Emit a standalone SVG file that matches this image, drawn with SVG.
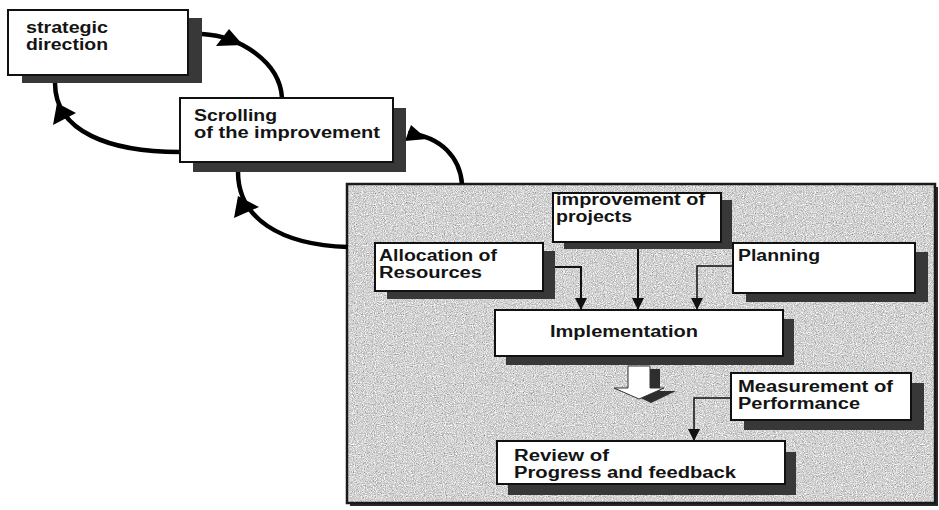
<svg xmlns="http://www.w3.org/2000/svg" width="939" height="510" viewBox="0 0 939 510">
  <defs>
    <style>
      .shadow { fill: #383838; }
      .box { fill: #ffffff; stroke: #111111; stroke-width: 2; }
      .lbl { font-family: "Liberation Sans", Arial, sans-serif; font-weight: bold; font-size: 16px; fill: #141414; }
      .loop { fill: none; stroke: #000000; stroke-width: 4.5; }
      .head { fill: #000000; }
      .link { fill: none; stroke: #111111; stroke-width: 2; }
      .thin { stroke-width: 1.5; }
    </style>
    <filter id="grain" x="0" y="0" width="100%" height="100%" color-interpolation-filters="sRGB">
      <feTurbulence type="fractalNoise" baseFrequency="0.9" numOctaves="2" seed="7"/>
      <feColorMatrix type="matrix" values="0.38 0.38 0.38 0 0.25  0.38 0.38 0.38 0 0.25  0.38 0.38 0.38 0 0.25  0 0 0 0 1"/>
    </filter>
    <marker id="tip" viewBox="0 0 12 12" refX="12" refY="6" markerWidth="12" markerHeight="12" markerUnits="userSpaceOnUse" orient="auto">
      <path d="M0,0 L12,6 L0,12 Z" fill="#111111"/>
    </marker>
  </defs>

  <!-- speckled panel holding the improvement cycle -->
  <g id="panel">
    <rect x="350" y="187" width="588" height="319" fill="#2a2a2a"/>
    <rect x="347" y="184" width="588" height="319" filter="url(#grain)"/>
    <rect x="347" y="184" width="588" height="319" fill="none" stroke="#1a1a1a" stroke-width="2.5"/>
  </g>

  <!-- feedback loops and internal links -->
  <g id="connectors">
    <!-- scrolling -> strategic direction (right side) -->
    <path class="loop" d="M202,34 C240,36 280,62 282,98"/>
    <polygon class="head" points="216,46 229,29 243,45"/>
    <!-- scrolling -> strategic direction (left side) -->
    <path class="loop" d="M180,152 C110,152 55,132 55,83"/>
    <polygon class="head" points="53,125 57,103 76,113"/>
    <!-- panel -> scrolling (left side) -->
    <path class="loop" d="M348,247 C280,245 238,218 238,172"/>
    <polygon class="head" points="234,218 238,196 259,207"/>
    <!-- panel -> scrolling (right side) -->
    <path class="loop" d="M462,184 C460,158 442,137 408,133"/>
    <polygon class="head" points="405,141 411,125 427,139"/>

    <!-- inputs into Implementation -->
    <path class="link" d="M543,267 H581 V310" marker-end="url(#tip)"/>
    <path class="link" d="M638,242 V310" marker-end="url(#tip)"/>
    <path class="link thin" d="M733,266 H697 V310" marker-end="url(#tip)"/>
    <!-- measurement feeding the review -->
    <path class="link thin" d="M731,398 H694 V441" marker-end="url(#tip)"/>

    <!-- hollow block arrow under Implementation -->
    <polygon fill="#2e2e2e" points="638,369 660,369 660,391 676,391 651,403 626,391 638,391"/>
    <polygon fill="#ffffff" stroke="#333333" stroke-width="1" points="628,366 650,366 650,388 664,388 639,399 614,388 628,388"/>
  </g>

  <g id="strategic-direction">
    <rect class="shadow" x="22" y="18" width="180" height="65"/>
    <rect class="box" x="8" y="10" width="180" height="65"/>
    <text class="lbl" x="26" y="33" textLength="82" lengthAdjust="spacingAndGlyphs">strategic</text>
    <text class="lbl" x="26" y="50" textLength="82" lengthAdjust="spacingAndGlyphs">direction</text>
  </g>

  <g id="scrolling">
    <rect class="shadow" x="193" y="108" width="213" height="64"/>
    <rect class="box" x="180" y="98" width="213" height="64"/>
    <text class="lbl" x="194" y="121" textLength="83" lengthAdjust="spacingAndGlyphs">Scrolling</text>
    <text class="lbl" x="194" y="138" textLength="186" lengthAdjust="spacingAndGlyphs">of the improvement</text>
  </g>

  <g id="improvement-projects">
    <rect class="shadow" x="564" y="200" width="168" height="49"/>
    <rect class="box" x="553" y="193" width="168" height="49"/>
    <text class="lbl" x="556" y="205" textLength="149" lengthAdjust="spacingAndGlyphs">improvement of</text>
    <text class="lbl" x="556" y="222" textLength="76" lengthAdjust="spacingAndGlyphs">projects</text>
  </g>

  <g id="allocation">
    <rect class="shadow" x="387" y="251" width="168" height="48"/>
    <rect class="box" x="375" y="243" width="168" height="48"/>
    <text class="lbl" x="379" y="261" textLength="118" lengthAdjust="spacingAndGlyphs">Allocation of</text>
    <text class="lbl" x="379" y="278" textLength="103" lengthAdjust="spacingAndGlyphs">Resources</text>
  </g>

  <g id="planning">
    <rect class="shadow" x="746" y="252" width="182" height="50"/>
    <rect class="box" x="733" y="243" width="182" height="50"/>
    <text class="lbl" x="738" y="261" textLength="82" lengthAdjust="spacingAndGlyphs">Planning</text>
  </g>

  <g id="implementation">
    <rect class="shadow" x="506" y="319" width="288" height="46"/>
    <rect class="box" x="495" y="310" width="288" height="46"/>
    <text class="lbl" x="550" y="337" textLength="148" lengthAdjust="spacingAndGlyphs">Implementation</text>
  </g>

  <g id="measurement">
    <rect class="shadow" x="744" y="383" width="180" height="47"/>
    <rect class="box" x="731" y="373" width="180" height="47"/>
    <text class="lbl" x="738" y="392" textLength="155" lengthAdjust="spacingAndGlyphs">Measurement of</text>
    <text class="lbl" x="738" y="409" textLength="122" lengthAdjust="spacingAndGlyphs">Performance</text>
  </g>

  <g id="review">
    <rect class="shadow" x="508" y="452" width="288" height="43"/>
    <rect class="box" x="497" y="441" width="288" height="43"/>
    <text class="lbl" x="514" y="461" textLength="95" lengthAdjust="spacingAndGlyphs">Review of</text>
    <text class="lbl" x="514" y="478" textLength="222" lengthAdjust="spacingAndGlyphs">Progress and feedback</text>
  </g>
</svg>
